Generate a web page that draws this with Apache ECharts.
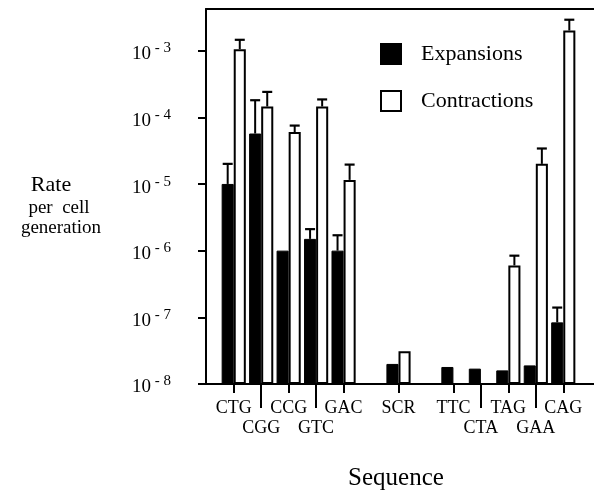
<!DOCTYPE html>
<html>
<head>
<meta charset="utf-8">
<script src="https://cdn.jsdelivr.net/npm/echarts@6/dist/echarts.min.js"></script>
<style>html,body{margin:0;padding:0;background:#fff;overflow:hidden}#c{width:594px;height:493px}</style>
</head>
<body>
<div id="c"></div>
<script>
// ---- data ----
const categories = ['CTG', 'CGG', 'CCG', 'GTC', 'GAC', ' ', 'SCR', '  ', 'TTC', 'CTA', 'TAG', 'GAA', 'CAG'];
const lowerRow = ['CGG', 'GTC', 'CTA', 'GAA'];
const expansions = [1.0e-5, 5.7e-5, 1.0e-6, 1.5e-6, 1.0e-6, null, 2.0e-8, null, 1.8e-8, 1.7e-8, 1.6e-8, 1.9e-8, 8.4e-8];
const expansionErr = [2.0e-5, 1.8e-4, null, 2.1e-6, 1.7e-6, null, null, null, null, null, null, null, 1.4e-7];
const contractions = [1.05e-3, 1.45e-4, 6.0e-5, 1.45e-4, 1.15e-5, null, 3.1e-8, null, null, null, 6.0e-7, 2.0e-5, 2.0e-3];
const contractionErr = [1.45e-3, 2.4e-4, 7.5e-5, 1.85e-4, 1.95e-5, null, null, null, null, null, 8.4e-7, 3.4e-5, 2.9e-3];
const yTicks = [1e-8, 1e-7, 1e-6, 1e-5, 1e-4, 1e-3];
const yMin = 1e-8, yMax = 4.2e-3;

const FONT = "'Liberation Serif', 'Times New Roman', serif";
const BAR_FRAC = 0.44;

function errData(vals, errs) {
  const out = [];
  vals.forEach((v, i) => { if (v != null && errs[i] != null) out.push([i, v, errs[i]]); });
  return out;
}
function errRender(side) {
  return function (params, api) {
    const i = api.value(0), v = api.value(1), e = api.value(2);
    const band = api.coord([1, v])[0] - api.coord([0, v])[0];
    const off = side * band * BAR_FRAC / 2;
    const p0 = api.coord([i, v]);
    const p1 = api.coord([i, e]);
    const x = p0[0] + off;
    const cap = 5;
    return {
      type: 'group',
      children: [
        { type: 'line', shape: { x1: x, y1: p0[1], x2: x, y2: p1[1] }, style: { stroke: '#000', lineWidth: 2 } },
        { type: 'line', shape: { x1: x - cap, y1: p1[1], x2: x + cap, y2: p1[1] }, style: { stroke: '#000', lineWidth: 2.2 } }
      ]
    };
  };
}

const chart = echarts.init(document.getElementById('c'), null, { renderer: 'canvas' });
const isUpper = (idx, val) => val.trim() !== '' && lowerRow.indexOf(val) < 0;
const isLower = (idx, val) => lowerRow.indexOf(val) >= 0;
const frameAxis = (pos) => ({
  gridIndex: 0, type: 'value', position: pos, min: 0, max: 1,
  axisLine: { show: true, onZero: false, lineStyle: { color: '#000', width: 2 } },
  axisTick: { show: false }, axisLabel: { show: false }, splitLine: { show: false }
});

chart.setOption({
  animation: false,
  backgroundColor: '#fff',
  textStyle: { fontFamily: FONT, color: '#000' },
  grid: [
    { left: 206, width: 420, top: 9, bottom: 109 },
    { left: 206, width: 420, top: 51, bottom: 109 },
    { left: 220, width: 357, top: 9, bottom: 109 }
  ],
  xAxis: [
    frameAxis('bottom'),
    frameAxis('top'),
    { gridIndex: 1, type: 'value', show: false },
    {
      gridIndex: 2, type: 'category', data: categories, position: 'bottom',
      axisLine: { show: false },
      axisTick: { show: true, alignWithLabel: true, length: 9, interval: isUpper, lineStyle: { color: '#000', width: 2 } },
      axisLabel: { interval: isUpper, margin: 15, fontSize: 18, fontFamily: FONT, color: '#000' },
      splitLine: { show: false }
    },
    {
      gridIndex: 2, type: 'category', data: categories, position: 'bottom', offset: 0,
      axisLine: { show: false },
      axisTick: { show: true, alignWithLabel: true, length: 24, interval: isLower, lineStyle: { color: '#000', width: 2 } },
      axisLabel: { interval: isLower, margin: 35, fontSize: 18, fontFamily: FONT, color: '#000' },
      splitLine: { show: false }
    }
  ],
  yAxis: [
    frameAxis('left'),
    {
      gridIndex: 1, type: 'log', logBase: 10, min: yTicks[0], max: yTicks[yTicks.length - 1],
      axisLine: { show: true, lineStyle: { color: '#000', width: 2 } },
      axisTick: { show: true, length: 8, lineStyle: { color: '#000', width: 2 } },
      splitLine: { show: false },
      minorTick: { show: false },
      axisLabel: {
        margin: 35,
        formatter: function (v) { return '{a|10}{b| - ' + Math.round(-Math.log10(v)) + '}'; },
        rich: {
          a: { fontSize: 19, fontFamily: FONT, color: '#000', padding: [7, 0, 0, 0] },
          b: { fontSize: 15, fontFamily: FONT, color: '#000', padding: [0, 0, 5, 0] }
        }
      }
    },
    { gridIndex: 2, type: 'log', logBase: 10, min: yMin, max: yMax, startValue: yMin, show: false }
  ],
  legend: {
    data: ['Expansions', 'Contractions'],
    orient: 'vertical', left: 380, top: 43, padding: 0,
    itemWidth: 20, itemHeight: 20, itemGap: 25, icon: 'rect',
    textStyle: { fontSize: 22, fontFamily: FONT, color: '#000', padding: [0, 0, 0, 15] }
  },
  series: [
    {
      name: 'Expansions', type: 'bar', xAxisIndex: 3, yAxisIndex: 2,
      data: expansions, barWidth: (BAR_FRAC * 100) + '%', barGap: '0%',
      itemStyle: { color: '#000', borderColor: '#000', borderWidth: 1 }
    },
    {
      name: 'Contractions', type: 'bar', xAxisIndex: 3, yAxisIndex: 2,
      data: contractions, barWidth: (BAR_FRAC * 100) + '%', barGap: '0%',
      itemStyle: { color: '#fff', borderColor: '#000', borderWidth: 2 }
    },
    {
      type: 'custom', xAxisIndex: 3, yAxisIndex: 2, clip: false, z: 3,
      data: errData(expansions, expansionErr), renderItem: errRender(-1), encode: { x: 0, y: [1, 2] }
    },
    {
      type: 'custom', xAxisIndex: 3, yAxisIndex: 2, clip: false, z: 3,
      data: errData(contractions, contractionErr), renderItem: errRender(1), encode: { x: 0, y: [1, 2] }
    }
  ],
  graphic: [
    { type: 'text', x: 51, y: 185, style: { text: 'Rate', fontSize: 22, fontFamily: FONT, fill: '#000', align: 'center', verticalAlign: 'middle' } },
    { type: 'text', x: 59, y: 208, style: { text: 'per  cell', fontSize: 19, fontFamily: FONT, fill: '#000', align: 'center', verticalAlign: 'middle' } },
    { type: 'text', x: 61, y: 228, style: { text: 'generation', fontSize: 19, fontFamily: FONT, fill: '#000', align: 'center', verticalAlign: 'middle' } },
    { type: 'text', x: 396, y: 478, style: { text: 'Sequence', fontSize: 25, fontFamily: FONT, fill: '#000', align: 'center', verticalAlign: 'middle' } }
  ]
});
</script>
</body>
</html>
